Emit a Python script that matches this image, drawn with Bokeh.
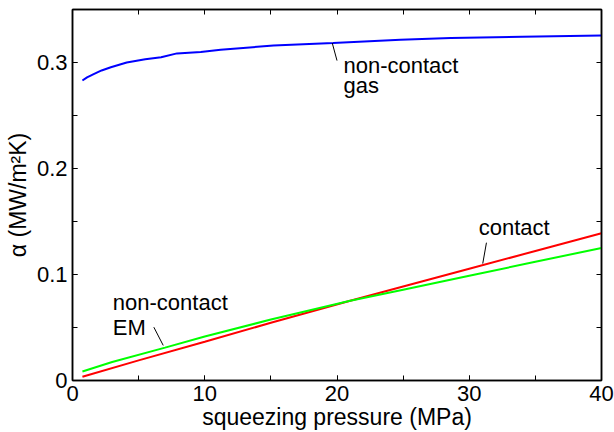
from bokeh.plotting import figure
from bokeh.models import LinearAxis, FixedTicker, CustomJSTickFormatter, Range1d
from bokeh.embed import file_html
from bokeh.resources import INLINE
from bokeh.core.properties import value

# ---- data ----
pressure_gas = [0.75, 1.1, 1.6, 2.2, 2.9, 4.1, 5.5, 6.7, 7.9, 9.7, 11.2, 15.2, 19.7, 24.8, 28.6, 34.0, 40.0]
alpha_gas = [0.283, 0.286, 0.289, 0.2925, 0.2955, 0.300, 0.303, 0.305, 0.3086, 0.310, 0.312, 0.316, 0.3184, 0.3214, 0.323, 0.3243, 0.3255]

pressure_contact = [0.75, 5, 10, 15, 21, 25, 30, 35, 40]
alpha_contact = [0.0035, 0.019, 0.0365, 0.0545, 0.0752, 0.0886, 0.1054, 0.1222, 0.139]

pressure_em = [0.75, 3, 7, 10, 15, 21, 25, 30, 35, 40]
alpha_em = [0.0085, 0.0175, 0.031, 0.0415, 0.0575, 0.0752, 0.0857, 0.0988, 0.112, 0.125]

x_ticks = [0, 10, 20, 30, 40]
x_minor = [0, 5, 10, 15, 20, 25, 30, 35, 40]
y_ticks = [0, 0.1, 0.2, 0.3]
y_minor = [0, 0.05, 0.1, 0.15, 0.2, 0.25, 0.3, 0.35]

FONT = "Liberation Sans"
FS = "22px"

p = figure(width=614, height=432, output_backend="svg", toolbar_location=None,
           x_range=Range1d(0, 40), y_range=Range1d(0, 0.35),
           min_border_left=72, min_border_right=13, min_border_top=9, min_border_bottom=50)
p.grid.visible = False
p.background_fill_color = "white"
p.border_fill_color = "white"
p.outline_line_color = "black"
p.outline_line_width = 1.5
p.outline_line_alpha = 1.0

fmt = CustomJSTickFormatter(code="return String(Math.round(tick*10)/10);")

def style(ax, ticks, minor, labels=True):
    ax.ticker = FixedTicker(ticks=ticks, minor_ticks=minor)
    ax.major_tick_in = 5
    ax.major_tick_out = 0
    ax.minor_tick_in = 5
    ax.minor_tick_out = 0
    ax.major_tick_line_color = "black"
    ax.minor_tick_line_color = "black"
    ax.axis_line_color = "black"
    ax.axis_line_width = 1.5
    if labels:
        ax.major_label_text_font = FONT
        ax.major_label_text_font_size = FS
        ax.major_label_text_color = "black"
        ax.axis_label_text_font = FONT
        ax.axis_label_text_font_style = "normal"
        ax.axis_label_text_color = "black"

xa = p.xaxis[0]
style(xa, x_ticks, x_minor)
xa.axis_label = "squeezing pressure (MPa)"
xa.axis_label_text_font_size = "23px"
xa.major_label_text_line_height = 1.0
xa.axis_label_text_line_height = 1.0
xa.major_label_standoff = 5
xa.axis_label_standoff = 0

ya = p.yaxis[0]
style(ya, y_ticks, y_minor)
ya.formatter = fmt
ya.axis_label = "α (MW/m²K)"
ya.axis_label_text_font_size = "23px"
ya.major_label_standoff = 5
ya.axis_label_standoff = 3

# frame ticks on top and right (no labels)
top = LinearAxis()
style(top, [], x_minor, labels=False)
top.major_label_standoff = 0
p.add_layout(top, "above")
right = LinearAxis()
style(right, [], y_minor, labels=False)
right.major_label_standoff = 0
p.add_layout(right, "right")

p.line(pressure_gas, alpha_gas, line_color="#0000ff", line_width=2)
p.line(pressure_contact, alpha_contact, line_color="#ff0000", line_width=2)
p.line(pressure_em, alpha_em, line_color="#00ff00", line_width=2)

# annotations
p.text(x=[20.49, 20.49, 3.05, 3.05, 30.72],
       y=[0.2967, 0.2786, 0.0739, 0.0499, 0.1444],
       text=["non-contact", "gas", "non-contact", "EM", "contact"],
       text_font=value(FONT), text_font_size=FS, text_color="black",
       text_align="left", text_baseline="alphabetic")
p.segment(x0=[19.64, 6.15, 31.3], y0=[0.3184, 0.0503, 0.130],
          x1=[20.0, 6.86, 31.02], y1=[0.3018, 0.0331, 0.1103],
          line_color="black", line_width=1)

open("out.html", "w").write(file_html(p, INLINE))
